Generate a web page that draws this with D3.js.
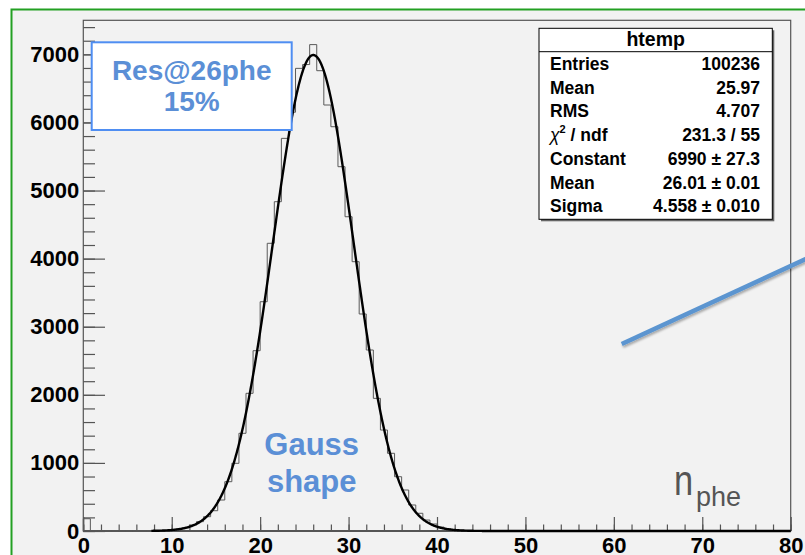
<!DOCTYPE html>
<html>
<head>
<meta charset="utf-8">
<script src="https://cdn.jsdelivr.net/npm/d3@7"></script>
<style>
  body { margin: 0; background: #ffffff; }
  text { font-family: "Liberation Sans", Arial, Helvetica, sans-serif; }
</style>
</head>
<body>
<svg id="chart" width="805" height="555"></svg>
<script>
// histogram range, 100 bins of 0.8 from 0 to 80
var histRange = [0, 80];
var binCounts = [
  180, 0, 0, 0, 0, 0, 0, 0, 0, 0,
  4, 7, 13, 26, 47, 88, 137, 210, 298, 455,
  724, 994, 1435, 2022, 2648, 3367, 4225, 4836, 5766, 6150,
  6794, 6850, 7143, 6760, 6256, 5937, 5350, 4615, 3955, 3187,
  2658, 1948, 1483, 1141, 797, 602, 382, 260, 161, 103,
  58, 33, 19, 11, 6, 3, 2, 1, 1, 0,
  0, 0, 0, 0, 0, 0, 0, 0, 0, 0,
  0, 0, 0, 0, 0, 0, 0, 0, 0, 0,
  0, 0, 0, 0, 0, 0, 0, 0, 0, 0,
  0, 0, 0, 0, 0, 0, 0, 0, 0, 0
];
// gaussian fit: constant, mean, sigma and fit range
var fitParams = [6990, 26.01, 4.558];
var fitRange = [7.7, 80];

var yMax = 7500;
var xTicks = [0, 10, 20, 30, 40, 50, 60, 70, 80];
var yTicks = [0, 1000, 2000, 3000, 4000, 5000, 6000, 7000];

var statTitle = "htemp";
var statLabels = ["Entries", "Mean", "RMS", "chi2", "Constant", "Mean", "Sigma"];
var statValues = ["100236", "25.97", "4.707", "231.3 / 55", "6990 \u00b1 27.3", "26.01 \u00b1 0.01", "4.558 \u00b1 0.010"];

var resLines = ["Res@26phe", "15%"];
var shapeLines = ["Gauss", "shape"];

var svg = d3.select("#chart");
var blue = "#5b8fd6";

// pad with green border
svg.append("rect")
    .attr("x", 11.5).attr("y", 9.5)
    .attr("width", 820).attr("height", 570)
    .attr("fill", "#f2f2f2")
    .attr("stroke", "#23a023")
    .attr("stroke-width", 2);

var x = d3.scaleLinear().domain(histRange).range([83.3, 790.7]);
var y = d3.scaleLinear().domain([0, yMax]).range([531, 20.3]);

// frame
svg.append("rect")
    .attr("x", x(0)).attr("y", y(yMax))
    .attr("width", x(80) - x(0)).attr("height", y(0) - y(yMax))
    .attr("fill", "none")
    .attr("stroke", "#555")
    .attr("stroke-width", 1.2);

// y axis: minor then major ticks
var yMinor = svg.append("g")
    .attr("transform", "translate(" + x(0) + ",0)")
    .call(d3.axisLeft(y).tickValues(d3.range(0, yMax, 200)).tickSize(-11.7).tickFormat(""));
var yMajor = svg.append("g")
    .attr("transform", "translate(" + x(0) + ",0)")
    .call(d3.axisLeft(y).tickValues(yTicks).tickSize(-21.7).tickPadding(4).tickFormat(d3.format("d")));

var xMinor = svg.append("g")
    .attr("transform", "translate(0," + y(0) + ")")
    .call(d3.axisBottom(x).tickValues(d3.range(0, 81, 2)).tickSize(-6.5).tickFormat(""));
var xMajor = svg.append("g")
    .attr("transform", "translate(0," + y(0) + ")")
    .call(d3.axisBottom(x).tickValues(xTicks).tickSize(-14).tickPadding(6).tickFormat(d3.format("d")));

[yMinor, yMajor, xMinor, xMajor].forEach(function(g) {
    g.select(".domain").remove();
    g.selectAll("line").attr("stroke", "#555").attr("stroke-width", 1.2);
    g.selectAll("text")
        .attr("fill", "#000")
        .attr("font-size", 22)
        .attr("font-weight", "bold")
        .style("font-family", "'Liberation Sans', Arial, sans-serif");
});

// axis lines drawn a little heavier
svg.append("line")
    .attr("x1", x(0)).attr("x2", x(80)).attr("y1", y(0)).attr("y2", y(0))
    .attr("stroke", "#555").attr("stroke-width", 1.8);

// histogram outline
var binW = (histRange[1] - histRange[0]) / binCounts.length;
var histPts = [[histRange[0], 0]];
binCounts.forEach(function(c, i) {
    histPts.push([histRange[0] + i * binW, c]);
    histPts.push([histRange[0] + (i + 1) * binW, c]);
});
histPts.push([histRange[1], 0]);

svg.append("path")
    .datum(histPts)
    .attr("fill", "none")
    .attr("stroke", "#5a5a5a")
    .attr("stroke-width", 1)
    .attr("d", d3.line().x(function(d) { return x(d[0]); }).y(function(d) { return y(d[1]); }));

// fitted gaussian
function gaus(v) {
    var t = (v - fitParams[1]) / fitParams[2];
    return fitParams[0] * Math.exp(-0.5 * t * t);
}
var fitPts = d3.range(fitRange[0], fitRange[1] + 0.001, 0.05).map(function(v) { return [v, gaus(v)]; });
svg.append("path")
    .datum(fitPts)
    .attr("fill", "none")
    .attr("stroke", "#000")
    .attr("stroke-width", 2.4)
    .attr("stroke-linejoin", "round")
    .attr("d", d3.line().x(function(d) { return x(d[0]); }).y(function(d) { return y(d[1]); }));

// stats box
var sb = svg.append("g");
sb.append("rect")
    .attr("x", 541).attr("y", 30.3).attr("width", 233.3).attr("height", 191)
    .attr("fill", "#666");
sb.append("rect")
    .attr("x", 539).attr("y", 28.3).attr("width", 233.3).attr("height", 191)
    .attr("fill", "#fff").attr("stroke", "#000").attr("stroke-width", 1);
sb.append("line")
    .attr("x1", 539).attr("x2", 772.3).attr("y1", 51.7).attr("y2", 51.7)
    .attr("stroke", "#000").attr("stroke-width", 1);
sb.append("text")
    .attr("x", 655.7).attr("y", 46)
    .attr("text-anchor", "middle")
    .attr("font-size", 19.5).attr("font-weight", "bold")
    .text(statTitle);

statLabels.forEach(function(lab, i) {
    var by = 70 + i * 23.7;
    var t = sb.append("text")
        .attr("x", 550).attr("y", by)
        .attr("font-size", 17.5).attr("font-weight", "bold");
    if (lab == "chi2") {
        t.append("tspan").attr("font-weight", "normal").attr("font-style", "italic").text("\u03c7");
        t.append("tspan").attr("font-size", 11).attr("dy", -8).text("2");
        t.append("tspan").attr("dy", 8).text(" / ndf");
    } else {
        t.text(lab);
    }
    sb.append("text")
        .attr("x", 760).attr("y", by)
        .attr("text-anchor", "end")
        .attr("font-size", 17.5).attr("font-weight", "bold")
        .text(statValues[i]);
});

// resolution annotation
svg.append("rect")
    .attr("x", 91.7).attr("y", 42.3).attr("width", 200).attr("height", 87.7)
    .attr("fill", "#fff").attr("stroke", "#4f8ef2").attr("stroke-width", 2);
resLines.forEach(function(s, i) {
    svg.append("text")
        .attr("x", 191.7).attr("y", 80 + i * 31)
        .attr("text-anchor", "middle")
        .attr("font-size", 28).attr("font-weight", "bold")
        .attr("fill", blue)
        .text(s);
});

shapeLines.forEach(function(s, i) {
    svg.append("text")
        .attr("x", 311.7).attr("y", 455 + i * 37)
        .attr("text-anchor", "middle")
        .attr("font-size", 31).attr("font-weight", "bold")
        .attr("fill", blue)
        .text(s);
});

// n_phe label
svg.append("text")
    .attr("transform", "translate(674,495) scale(0.8,1)")
    .attr("font-size", 43).attr("fill", "#555")
    .text("n");
svg.append("text")
    .attr("x", 696).attr("y", 506)
    .attr("font-size", 27).attr("fill", "#555")
    .text("phe");

// pointer line
var defs = svg.append("defs");
var f = defs.append("filter").attr("id", "shadow").attr("x", "-10%").attr("y", "-10%").attr("width", "130%").attr("height", "140%");
f.append("feDropShadow").attr("dx", 1).attr("dy", 2).attr("stdDeviation", 1.2).attr("flood-color", "#000").attr("flood-opacity", 0.3);
svg.append("line")
    .attr("x1", 621.7).attr("y1", 344)
    .attr("x2", 835).attr("y2", 245.5)
    .attr("stroke", "#5b95d0")
    .attr("stroke-width", 4.5)
    .attr("filter", "url(#shadow)");
</script>
</body>
</html>
